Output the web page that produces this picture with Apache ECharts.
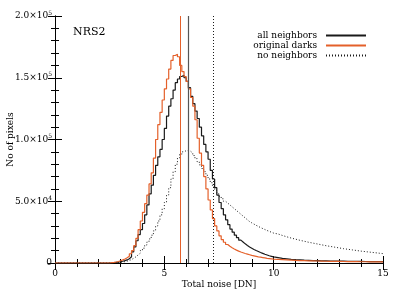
<!DOCTYPE html>
<html><head><meta charset="utf-8">
<script src="https://cdn.jsdelivr.net/npm/echarts@6/dist/echarts.min.js"></script>
<style>html,body{margin:0;padding:0;background:#fff}#c{width:399px;height:299px}</style>
</head><body><div id="c"></div>
<script>
// histogram bin edges: first bin 0-2.5, 0.1-wide bins from 2.5 to 10.0, 0.2-wide bins from 10.0 to 15
var binEdges = [0];
for (var i = 25; i <= 100; i++) binEdges.push(i / 10);
for (var j = 102; j <= 150; j += 2) binEdges.push(j / 10);

var seriesNames = ['all neighbors', 'original darks', 'no neighbors'];
var xTicks = [0, 5, 10, 15];
var yTicks = [0, 50000, 100000, 150000, 200000];
var vLines = { allNeighbors: 6.1, originalDarks: 5.72, noNeighbors: 7.24 };

// counts per bin (one value per bin)
var originalDarks = [0,
 300,500,800,1200,1800,
 2500,3300,4300,5500,7500,10000,14000,20000,27000,34000,
 41000,48000,55000,64000,73000,85000,100000,112000,122000,132000,
 141000,149000,157000,164000,168000,169000,167000,160000,155000,151000,
 147000,141000,134000,127000,116000,101000,89000,79000,70000,60000,
 51000,43000,36000,30000,26000,22000,19000,16800,15000,13500,
 12300,11300,10400,9600,8900,8300,7700,7200,6700,6200,
 5800,5400,5000,4700,4400,4100,3800,3600,3400,3200,
 3000,2800,2600,2400,2200,2000,1900,1800,1700,1600,
 1500,1400,1350,1300,1250,1200,1150,1100,1050,1000,
 1000,950,900,900,850];
var allNeighbors = [0,
 0,300,500,700,1000,
 1400,1900,2500,3500,5000,9000,13000,18000,23000,27000,
 32000,39000,47000,56000,63000,71000,79000,86000,92000,100000,
 109000,119000,127000,133000,140000,146000,149000,151000,152000,150000,
 147000,142000,135000,129000,123000,117000,110000,103000,96000,90000,
 84000,75000,68000,61000,55000,49000,44000,39000,35000,31000,
 27500,25000,22500,20500,18500,17000,15500,14200,13000,12000,
 11000,10100,9300,8500,7800,7100,6500,5900,5400,4900,
 4400,3800,3400,3000,2700,2500,2300,2150,2000,1900,
 1800,1700,1600,1550,1500,1450,1400,1350,1300,1250,
 1200,1150,1100,1100,1050];
var noNeighbors = [0,
 0,0,200,400,600,
 800,1100,1500,2000,2800,3800,5000,6500,8000,10000,
 12000,14500,17000,19500,22500,26000,30000,34000,39000,44000,
 49000,55000,61000,68000,74000,80000,85000,88000,90000,91000,
 91000,90500,89000,87000,84500,82000,79500,76500,74000,71000,
 68000,65000,62000,59000,56000,54000,52000,50000,48500,47000,
 45500,44000,42500,41000,39500,38000,36500,35000,33500,32500,
 31500,30500,29600,28700,27900,27100,26300,25600,24900,24200,
 23500,22300,21200,20200,19300,18400,17600,16800,16100,15400,
 14700,14000,13400,12800,12200,11600,11100,10600,10100,9600,
 9200,8800,8400,8000,7600];

function toSteps(vals) {
  var out = [];
  for (var k = 0; k < vals.length; k++) out.push([binEdges[k], vals[k]]);
  out.push([binEdges[vals.length], vals[vals.length - 1]]);
  return out;
}

var FONT = 'DejaVu Serif';
var ORANGE = '#e4602a';
var BLACK = '#1a1a1a';

function yFmt(v) {
  if (v === 0) return '0';
  var e = Math.floor(Math.log10(v));
  var m = (v / Math.pow(10, e)).toFixed(1);
  return m + '×10{s|' + e + '}';
}

var axisCommon = {
  axisLine: { lineStyle: { color: '#000', width: 1 } },
  axisTick: { inside: true, length: 7, lineStyle: { color: '#000' } },
  minorTick: { show: true, splitNumber: 5, length: 4, lineStyle: { color: '#000' } },
  splitLine: { show: false }
};

var chart = echarts.init(document.getElementById('c'), null, { renderer: 'canvas' });
chart.setOption({
  animation: false,
  backgroundColor: '#fff',
  textStyle: { fontFamily: FONT },
  title: { text: 'NRS2', left: 68, top: 22, textStyle: { fontFamily: FONT, fontSize: 11, fontWeight: 'normal', color: '#000' } },
  legend: {
    orient: 'vertical', right: 27, top: 26, align: 'right',
    itemWidth: 40, itemHeight: 10, itemGap: 1,
    data: seriesNames,
    itemStyle: { opacity: 0 },
    textStyle: { fontFamily: FONT, fontSize: 9, color: '#000', padding: [0, 4, 0, 0] }
  },
  grid: { left: 55, right: 16, top: 16, bottom: 36, containLabel: false, outerBoundsMode: 'none' },
  xAxis: [
    Object.assign({}, axisCommon, {
      type: 'value', min: 0, max: 15, interval: 5, position: 'bottom',
      name: 'Total noise [DN]', nameLocation: 'middle', nameGap: 17, nameMoveOverlap: false,
      nameTextStyle: { fontFamily: FONT, fontSize: 9, color: '#000' },
      axisLabel: { fontFamily: FONT, fontSize: 9, color: '#000', margin: 6,
        formatter: function (v) { return xTicks.indexOf(v) >= 0 ? String(v) : ''; } }
    }),
    Object.assign({}, axisCommon, {
      type: 'value', min: 0, max: 15, interval: 5, position: 'top', axisLabel: { show: false }
    })
  ],
  yAxis: [
    Object.assign({}, axisCommon, {
      type: 'value', min: 0, max: 200000, interval: 50000, position: 'left',
      name: 'No of pixels', nameLocation: 'middle', nameGap: 40, nameMoveOverlap: false,
      nameTextStyle: { fontFamily: FONT, fontSize: 9, color: '#000' },
      axisLabel: { fontFamily: FONT, fontSize: 9, color: '#000', margin: 3,
        formatter: function (v) { return yTicks.indexOf(v) >= 0 ? yFmt(v) : ''; },
        rich: { s: { fontFamily: FONT, fontSize: 6, verticalAlign: 'top', padding: [0, 0, 6, 0], color: '#000' } } }
    }),
    Object.assign({}, axisCommon, {
      type: 'value', min: 0, max: 200000, interval: 50000, position: 'right', axisLabel: { show: false }
    })
  ],
  series: [
    { name: seriesNames[0], type: 'line', step: 'end', symbol: 'none', data: toSteps(allNeighbors),
      color: BLACK, lineStyle: { color: BLACK, width: 1.2 }, z: 3,
      markLine: { silent: true, symbol: 'none', label: { show: false },
        lineStyle: { color: '#555', width: 1.2, type: 'solid' }, data: [{ xAxis: vLines.allNeighbors }] } },
    { name: seriesNames[1], type: 'line', step: 'end', symbol: 'none', data: toSteps(originalDarks),
      color: ORANGE, lineStyle: { color: ORANGE, width: 1.2 }, z: 4,
      markLine: { silent: true, symbol: 'none', label: { show: false },
        lineStyle: { color: ORANGE, width: 1, type: 'solid' }, data: [{ xAxis: vLines.originalDarks }] } },
    { name: seriesNames[2], type: 'line', step: 'end', symbol: 'none', data: toSteps(noNeighbors),
      color: BLACK, lineStyle: { color: BLACK, width: 1, type: [1, 2] }, z: 2,
      markLine: { silent: true, symbol: 'none', label: { show: false },
        lineStyle: { color: BLACK, width: 1, type: [1, 2] }, data: [{ xAxis: vLines.noNeighbors }] } }
  ]
});
</script></body></html>
